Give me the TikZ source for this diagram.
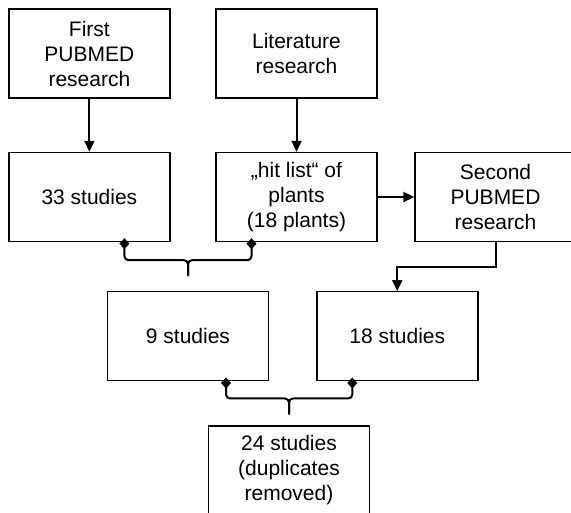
\documentclass[tikz,border=0pt]{standalone}
\usepackage{fontspec}
\setmainfont{Liberation Sans}
\usetikzlibrary{arrows.meta}
\tikzset{
  box/.style={draw, line width=1.4pt, minimum width=161pt, minimum height=89pt,
    inner sep=0pt, align=center, font=\fontsize{21}{25}\selectfont},
  flow/.style={line width=2pt, -{Triangle[length=11pt,width=10pt]}},
  brace/.style={line width=2pt, rounded corners=4pt, {Diamond[length=11pt,width=10pt]}-}
}
\begin{document}
\begin{tikzpicture}[x=1pt,y=-1pt]
  \useasboundingbox (0,0) rectangle (571,513);
  \clip (0,0) rectangle (571,513);
  \draw
    (89.4,53.7) node[box] (first){First\\PUBMED\\research}
    (296.5,53.7) node[box] (lit){Literature\\research}
    (89.4,197) node[box] (s33){33 studies}
    (296.5,197) node[box] (hits){„hit list“ of\\plants\\(18 plants)}
    (495.5,197) node[box] (second){Second\\PUBMED\\research}
    (188,336.3) node[box] (s9){9 studies}
    (397.3,336.3) node[box] (s18){18 studies}
    (289,470.5) node[box] (s24){24 studies\\(duplicates\\removed)};
  % arrows
  \draw[flow] (first) to (s33);
  \draw[flow] (lit) to (hits);
  \draw[flow] (hits) to (second);
  \draw[flow] (second.south) -- ++(0,25) -| (s18.north);
  % braces joining two results
  \coordinate (m1) at ([yshift=-18pt]s33.south -| s9.north);
  \coordinate (t1) at ([yshift=15pt]s9.north);
  \draw[brace] ([xshift=35pt,yshift=4pt]s33.south) |- (m1) -- (t1);
  \draw[brace] ([xshift=-45pt,yshift=4pt]hits.south) |- (m1) -- (t1);
  \coordinate (m2) at ([yshift=-17pt]s9.south -| s24.north);
  \coordinate (t2) at ([yshift=11pt]s24.north);
  \draw[brace] ([xshift=38pt,yshift=4pt]s9.south) |- (m2) -- (t2);
  \draw[brace] ([xshift=-45pt,yshift=4pt]s18.south) |- (m2) -- (t2);
\end{tikzpicture}
\end{document}
